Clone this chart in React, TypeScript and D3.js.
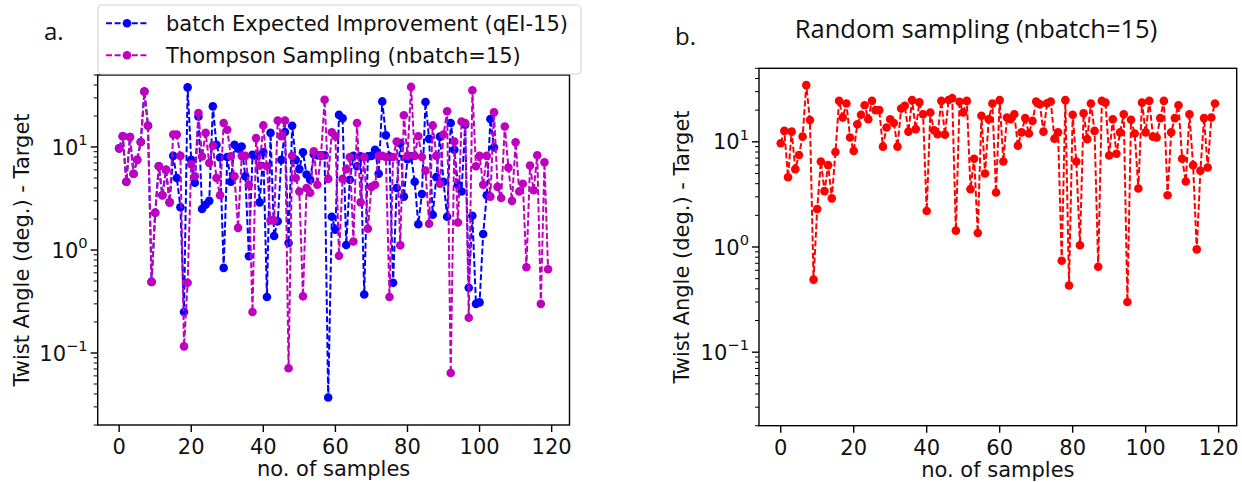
import React from "react";
import * as d3 from "d3";

// first 15 samples are the shared random initialisation
const initialSamples = [9.7, 12.7, 4.6, 12.5, 5.5, 7.5, 11.2, 34.6, 16.1, 0.49, 2.3, 6.5, 3.4, 6.0, 2.9];

const qeiRest = [
  8.2, 5.0, 2.6, 0.25, 37.9, 7.5, 4.5, 19.8, 2.5, 2.75, 3.0, 24.8, 10.5, 7.9, 0.67,
  8.0, 4.6, 10.5, 9.6, 10.1, 5.2, 0.87, 8.4, 8.2, 2.9, 8.9, 0.35, 13.7, 1.37, 1.9,
  7.5, 14, 1.17, 16.1, 7.5, 6.1, 8.9, 5.4, 4.8, 8.5, 8.3, 8.3, 8.3, 0.037, 2.1,
  1.57, 20.5, 19, 1.12, 4.8, 8.2, 6.5, 8.1, 0.37, 8.1, 8.2, 9.4, 5.5, 27.7, 13,
  8.1, 0.48, 4.0, 10.9, 3.3, 7.6, 8.1, 4.6, 1.78, 3.5, 27.3, 12.0, 2.2, 5.1, 12.6,
  4.6, 2.1, 17.1, 9.4, 4.3, 3.7, 16.5, 0.43, 2.15, 0.3, 0.31, 1.43, 3.4, 18.7, 9.9,
];

const tsRest = [
  13.2, 13.2, 8.2, 0.116, 0.48, 6.8, 5.2, 21.4, 8.1, 13.7, 7.0, 10.3, 5.0, 3.4, 17.1,
  14.7, 8.1, 5.2, 1.64, 8.2, 8.2, 4.3, 0.25, 12.2, 6.6, 16.2, 6.5, 1.94, 1.94, 18.1,
  12.7, 18.1, 0.071, 8.2, 5.0, 3.7, 0.355, 4.0, 3.6, 9.1, 4.3, 8.2, 28.8, 4.9, 13.9,
  12.7, 0.88, 4.9, 6.1, 8.0, 1.21, 17.1, 2.9, 8.0, 1.61, 4.1, 4.3, 8.2, 8.2, 8.0,
  0.35, 8.0, 11.3, 1.11, 20.3, 8.2, 38.3, 8.2, 12.7, 8.0, 5.9, 1.8, 16.2, 8.2, 4.4,
  13.2, 22.2, 0.064, 11.3, 1.85, 17.7, 17.1, 0.22, 35.5, 6.5, 8.2, 4.3, 8.2, 3.3, 21.7,
  4.1, 3.2, 15.8, 6.3, 3.0, 11.1, 3.7, 4.4, 0.68, 6.6, 3.8, 8.3, 0.3, 7.1, 0.65,
];

const randomRest = [
  8.0, 24.5, 17.0, 23.1, 11.0, 8.2, 14.7, 18.1, 22.3, 16.4, 24.5, 20, 20, 9.0, 13.7,
  16.4, 15.1, 9.0, 20.7, 22, 12.5, 24.9, 13.2, 23.7, 18.3, 2.2, 19.0, 12.9, 11.8, 24.5,
  11.7, 25, 26, 1.43, 24, 19, 24.5, 3.55, 6.9, 1.36, 17.7, 5.0, 16.4, 23.1, 3.3,
  24.9, 6.5, 17.0, 16.4, 18.3, 9.2, 12.3, 16.8, 12.0, 15.8, 24.2, 22.8, 12.5, 23.3, 24.2,
  10.7, 12.3, 0.74, 24.9, 0.43, 18.1, 6.5, 1.04, 18.7, 10.6, 23.1, 12.7, 0.65, 24.5, 23.6,
  7.4, 16.4, 7.7, 12.3, 18.3, 0.3, 16.2, 12.0, 3.6, 23.6, 12.3, 24.5, 11.2, 11.0, 16.8,
  24.5, 3.1, 12.3, 16.8, 22.3, 6.9, 4.2, 18.3, 6.0, 0.95, 5.3, 16.8, 5.7, 17.0, 23.1,
];

const qeiValues = [...initialSamples, ...qeiRest];
const tsValues = [...initialSamples, ...tsRest];
const randomValues = [...initialSamples, ...randomRest];

const xTicks = [0, 20, 40, 60, 80, 100, 120];
const yTicks = [0.1, 1, 10];
const yExponents = ["\u22121", "0", "1"];
const xDomain = [-5.95, 124.95];
const yDomain = [0.02, 50];

const legendLabels = ["batch Expected Improvement (qEI-15)", "Thompson Sampling (nbatch=15)"];
const titleRight = "Random sampling (nbatch=15)";
const xLabel = "no. of samples";
const yLabel = "Twist Angle (deg.) - Target";

const mplFont = "'DejaVu Sans', sans-serif";
const noteFont = "'Open Sans', 'Noto Sans', sans-serif";
const fs = 21;
const markerR = 4.3;
const lineW = 2;
const dash = "6,2.6";

type Series = { values: number[]; color: string };

function Panel({ box, series, yLabelX }) {
  const x = d3.scaleLinear().domain(xDomain).range([box.left, box.right]);
  const y = d3.scaleLog().domain(yDomain).range([box.bottom, box.top]);
  const minor = y.ticks().filter(t => !yTicks.some(m => Math.abs(m - t) < 1e-9));
  const line = d3
    .line<number>()
    .x((_, i) => x(i))
    .y(v => y(v));

  return (
    <g>
      {series.map((s: Series, k: number) => (
        <g key={k}>
          <path d={line(s.values)} fill="none" stroke={s.color} strokeWidth={lineW} strokeDasharray={dash} />
          {s.values.map((v, i) => (
            <circle key={i} cx={x(i)} cy={y(v)} r={markerR} fill={s.color} />
          ))}
        </g>
      ))}
      <rect
        x={box.left}
        y={box.top}
        width={box.right - box.left}
        height={box.bottom - box.top}
        fill="none"
        stroke="#000"
        strokeWidth={1.4}
      />
      {xTicks.map(t => (
        <g key={t}>
          <line x1={x(t)} x2={x(t)} y1={box.bottom} y2={box.bottom + 7} stroke="#000" strokeWidth={1.4} />
          <text x={x(t)} y={box.bottom + 29} textAnchor="middle" fontSize={fs} fontFamily={mplFont} fill="#111">
            {t}
          </text>
        </g>
      ))}
      {minor.map(t => (
        <line key={t} x1={box.left - 4} x2={box.left} y1={y(t)} y2={y(t)} stroke="#000" strokeWidth={1} />
      ))}
      {yTicks.map((t, i) => (
        <g key={t}>
          <line x1={box.left - 7} x2={box.left} y1={y(t)} y2={y(t)} stroke="#000" strokeWidth={1.4} />
          <text x={box.left - 10} y={y(t) + 7.6} textAnchor="end" fontSize={fs} fontFamily={mplFont} fill="#111">
            10
            <tspan dy={-9.5} fontSize={14.7}>
              {yExponents[i]}
            </tspan>
          </text>
        </g>
      ))}
      <text
        x={(box.left + box.right) / 2}
        y={box.bottom + 51}
        textAnchor="middle"
        fontSize={fs}
        fontFamily={mplFont}
        fill="#111"
      >
        {xLabel}
      </text>
      <text
        transform={`translate(${yLabelX},${(box.top + box.bottom) / 2}) rotate(-90)`}
        textAnchor="middle"
        fontSize={fs}
        fontFamily={mplFont}
        fill="#111"
      >
        {yLabel}
      </text>
    </g>
  );
}

export default function App() {
  const leftBox = { left: 97.7, right: 569.5, top: 75, bottom: 425 };
  const rightBox = { left: 759, right: 1236.7, top: 68.3, bottom: 425.7 };
  const legendColors = ["#0000ff", "#bf00bf"];

  return (
    <div style={{ position: "absolute", left: 0, top: 0 }}>
      <svg width={1242} height={482} style={{ display: "block", background: "#fff" }}>
        <Panel
          box={leftBox}
          yLabelX={29}
          series={[
            { values: qeiValues, color: "#0000ff" },
            { values: tsValues, color: "#bf00bf" },
          ]}
        />
        <Panel box={rightBox} yLabelX={689} series={[{ values: randomValues, color: "#ff0000" }]} />

        {/* legend of panel a */}
        <g>
          <rect x={98} y={5} width={483} height={69} rx={4} fill="#fff" fillOpacity={0.8} stroke="#d6d6d6" strokeWidth={1.2} />
          {legendLabels.map((label, i) => {
            const cy = 23.3 + i * 32;
            return (
              <g key={label}>
                <line x1={106} x2={148} y1={cy} y2={cy} stroke={legendColors[i]} strokeWidth={lineW} strokeDasharray={dash} />
                <circle cx={127} cy={cy} r={markerR} fill={legendColors[i]} />
                <text x={166} y={cy + 7.6} fontSize={fs} fontFamily={mplFont} fill="#111">
                  {label}
                </text>
              </g>
            );
          })}
        </g>

        <text x={44} y={40} fontSize={24} fontFamily={noteFont} fill="#111">
          a.
        </text>
        <text x={675} y={45} fontSize={24} fontFamily={noteFont} fill="#111">
          b.
        </text>
        <text x={976} y={38.3} textAnchor="middle" fontSize={25.5} fontFamily={noteFont} fill="#111">
          {titleRight}
        </text>
      </svg>
    </div>
  );
}
